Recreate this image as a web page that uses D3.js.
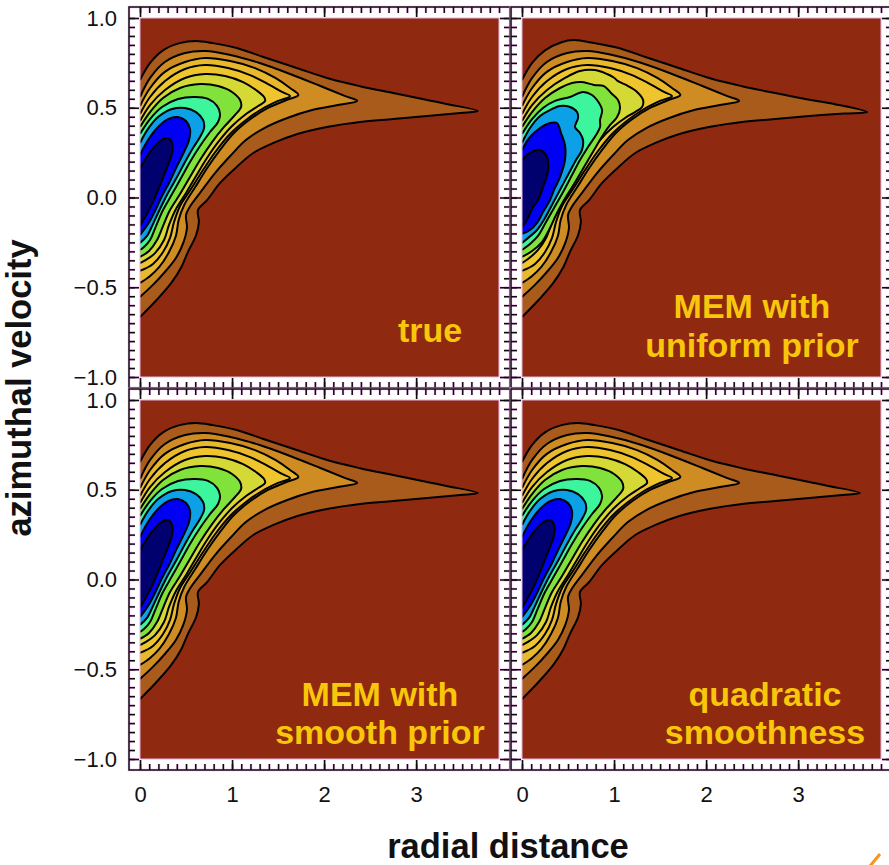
<!DOCTYPE html>
<html>
<head>
<meta charset="utf-8">
<script src="https://cdn.jsdelivr.net/npm/d3@7"></script>
<style>
body { margin:0; background:#fff; }
text { font-family:"Liberation Sans", Arial, Helvetica, sans-serif; }
</style>
</head>
<body>
<div id="chart"></div>
<script>
// axis ranges and ticks
var xDomain = [0, 3.9];
var yDomain = [-1, 1];
var xTicks = [0, 1, 2, 3];
var yTicks = [-1, -0.5, 0, 0.5, 1];

// fill colour of each contour level, outermost first
var backgroundColor = "#8f2a11";
var levelColors = ["#a95b1b", "#cf8c23", "#e9b92c", "#efc52e", "#d5d935",
                   "#82e23c", "#3cf59d", "#0ca0e6", "#0000f5", "#00006e"];

// contour lines read off the "true" panel: [radial distance, azimuthal velocity]
// each line starts and ends on the left edge (radial distance 0)
var contoursTrue = [
  [[0,0.655],[0.11,0.75],[0.25,0.82],[0.43,0.86],[0.61,0.872],[0.79,0.86],[1.05,0.833],[1.34,0.783],[1.71,0.72],[2.07,0.66],[2.39,0.62],[2.75,0.582],[3.12,0.543],[3.34,0.52],[3.67,0.482],[3.48,0.471],[3.12,0.454],[2.75,0.437],[2.39,0.421],[2.03,0.393],[1.71,0.354],[1.45,0.304],[1.23,0.248],[1.05,0.17],[0.87,0.081],[0.73,-0.014],[0.63,-0.07],[0.64,-0.136],[0.61,-0.209],[0.52,-0.304],[0.45,-0.387],[0.34,-0.476],[0.18,-0.571],[0,-0.666]],
  [[0,0.56],[0.11,0.666],[0.27,0.755],[0.49,0.805],[0.71,0.816],[0.98,0.794],[1.3,0.749],[1.63,0.688],[1.96,0.621],[2.23,0.565],[2.36,0.538],[2.15,0.515],[1.87,0.487],[1.6,0.443],[1.35,0.387],[1.15,0.32],[0.98,0.231],[0.815,0.136],[0.66,0.031],[0.54,-0.053],[0.5,-0.097],[0.51,-0.17],[0.47,-0.253],[0.39,-0.337],[0.27,-0.415],[0.14,-0.487],[0,-0.554]],
  [[0,0.51],[0.11,0.61],[0.27,0.7],[0.49,0.755],[0.71,0.777],[0.98,0.76],[1.25,0.721],[1.47,0.666],[1.63,0.61],[1.72,0.571],[1.59,0.543],[1.39,0.499],[1.2,0.437],[1.02,0.359],[0.87,0.265],[0.73,0.164],[0.6,0.058],[0.48,-0.042],[0.42,-0.125],[0.39,-0.214],[0.315,-0.304],[0.21,-0.387],[0.11,-0.437],[0,-0.476]],
  [[0,0.465],[0.109,0.56],[0.272,0.649],[0.489,0.716],[0.707,0.738],[0.957,0.721],[1.196,0.682],[1.391,0.632],[1.543,0.588],[1.63,0.565],[1.5,0.538],[1.326,0.493],[1.152,0.432],[0.978,0.354],[0.826,0.259],[0.685,0.153],[0.554,0.047],[0.435,-0.047],[0.37,-0.136],[0.326,-0.225],[0.25,-0.304],[0.141,-0.37],[0,-0.409]],
  [[0,0.426],[0.109,0.515],[0.272,0.599],[0.489,0.666],[0.707,0.688],[0.924,0.677],[1.12,0.643],[1.26,0.599],[1.348,0.56],[1.359,0.538],[1.283,0.51],[1.152,0.465],[1.0,0.398],[0.859,0.315],[0.728,0.22],[0.609,0.12],[0.5,0.025],[0.391,-0.064],[0.315,-0.153],[0.261,-0.237],[0.163,-0.31],[0.065,-0.348],[0,-0.365]],
  [[0,0.393],[0.109,0.476],[0.25,0.554],[0.435,0.61],[0.652,0.632],[0.848,0.621],[1.0,0.588],[1.087,0.543],[1.098,0.504],[1.033,0.46],[0.913,0.393],[0.783,0.309],[0.652,0.209],[0.543,0.114],[0.435,0.019],[0.326,-0.07],[0.25,-0.159],[0.185,-0.237],[0.098,-0.298],[0,-0.331]],
  [[0,0.354],[0.109,0.437],[0.239,0.504],[0.413,0.549],[0.598,0.56],[0.739,0.549],[0.837,0.51],[0.87,0.465],[0.848,0.421],[0.761,0.365],[0.652,0.287],[0.543,0.198],[0.446,0.109],[0.348,0.019],[0.25,-0.07],[0.174,-0.159],[0.109,-0.237],[0.043,-0.276],[0,-0.292]],
  [[0,0.304],[0.087,0.382],[0.196,0.448],[0.348,0.493],[0.489,0.499],[0.609,0.476],[0.685,0.432],[0.696,0.387],[0.652,0.337],[0.576,0.276],[0.489,0.198],[0.402,0.114],[0.304,0.025],[0.217,-0.064],[0.141,-0.148],[0.076,-0.214],[0,-0.253]],
  [[0,0.237],[0.087,0.32],[0.196,0.393],[0.304,0.437],[0.413,0.448],[0.5,0.426],[0.543,0.382],[0.533,0.32],[0.478,0.253],[0.402,0.175],[0.326,0.092],[0.239,0.008],[0.163,-0.075],[0.087,-0.148],[0,-0.209]],
  [[0,0.164],[0.109,0.253],[0.217,0.315],[0.304,0.331],[0.348,0.304],[0.348,0.248],[0.304,0.181],[0.239,0.097],[0.174,0.014],[0.109,-0.058],[0.043,-0.12],[0,-0.159]]
];

// MEM with uniform prior: outer lines as in the true panel, longer tail, ragged inner lines
var uniformOuter = [[0,0.655],[0.11,0.75],[0.25,0.82],[0.43,0.865],[0.56,0.877],[0.79,0.86],[1.05,0.833],[1.34,0.783],[1.71,0.72],[2.07,0.66],[2.39,0.62],[2.75,0.582],[3.12,0.545],[3.4,0.52],[3.75,0.476],[3.5,0.468],[3.12,0.454],[2.75,0.437],[2.39,0.421],[2.03,0.393],[1.71,0.354],[1.45,0.304],[1.23,0.248],[1.05,0.17],[0.87,0.081],[0.73,-0.014],[0.63,-0.07],[0.64,-0.136],[0.61,-0.209],[0.52,-0.304],[0.45,-0.387],[0.34,-0.476],[0.18,-0.571],[0,-0.666]];
var uniformInner = [
  [[0,0.426],[0.109,0.515],[0.272,0.599],[0.467,0.666],[0.63,0.705],[0.793,0.71],[0.924,0.688],[1.0,0.667],[1.043,0.648],[1.152,0.621],[1.25,0.588],[1.315,0.543],[1.304,0.504],[1.228,0.476],[1.12,0.443],[0.989,0.393],[0.848,0.32],[0.739,0.237],[0.63,0.142],[0.522,0.042],[0.413,-0.053],[0.326,-0.142],[0.261,-0.226],[0.174,-0.292],[0.065,-0.343],[0,-0.365]],
  [[0,0.393],[0.109,0.476],[0.25,0.554],[0.413,0.61],[0.543,0.638],[0.652,0.643],[0.783,0.627],[0.891,0.621],[0.967,0.582],[1.043,0.543],[1.065,0.499],[1.033,0.448],[0.957,0.404],[0.88,0.348],[0.783,0.265],[0.674,0.17],[0.565,0.075],[0.457,-0.014],[0.37,-0.097],[0.293,-0.181],[0.217,-0.248],[0.109,-0.298],[0,-0.331]],
  [[0,0.354],[0.109,0.437],[0.228,0.499],[0.359,0.538],[0.522,0.56],[0.663,0.588],[0.761,0.571],[0.815,0.543],[0.87,0.487],[0.848,0.432],[0.848,0.393],[0.804,0.348],[0.717,0.281],[0.63,0.209],[0.543,0.125],[0.446,0.031],[0.348,-0.058],[0.261,-0.136],[0.174,-0.214],[0.087,-0.259],[0,-0.292]],
  [[0,0.304],[0.087,0.387],[0.196,0.454],[0.304,0.487],[0.413,0.51],[0.522,0.504],[0.598,0.476],[0.609,0.443],[0.576,0.393],[0.63,0.359],[0.663,0.32],[0.652,0.265],[0.587,0.209],[0.511,0.136],[0.424,0.053],[0.337,-0.031],[0.25,-0.114],[0.163,-0.181],[0,-0.253]],
  [[0,0.265],[0.087,0.337],[0.196,0.387],[0.304,0.415],[0.38,0.415],[0.424,0.359],[0.467,0.292],[0.467,0.209],[0.413,0.114],[0.348,0.042],[0.304,-0.014],[0.228,-0.081],[0.163,-0.142],[0.087,-0.181],[0,-0.203]],
  [[0,0.209],[0.087,0.248],[0.196,0.265],[0.272,0.226],[0.283,0.153],[0.228,0.058],[0.174,-0.014],[0.12,-0.053],[0.054,-0.125],[0,-0.164]]
];
var contoursUniform = [uniformOuter, contoursTrue[1], contoursTrue[2], contoursTrue[3]].concat(uniformInner);

// the two smoothed reconstructions are indistinguishable from the true map at this size
var contoursSmooth = contoursTrue;
var contoursQuadratic = contoursTrue;

var panelLabels = [["true"], ["MEM with", "uniform prior"], ["MEM with", "smooth prior"], ["quadratic", "smoothness"]];

var W = 889, H = 865;
var frameSize = 381, pad = 11;

var svg = d3.select("#chart").append("svg")
	.attr("width", W)
	.attr("height", H);

var panels = [
	{col:0, row:0, contours:contoursTrue,      labelX:430, labelY:[342]},
	{col:1, row:0, contours:contoursUniform,   labelX:752, labelY:[318, 357]},
	{col:0, row:1, contours:contoursSmooth,    labelX:380, labelY:[706, 744]},
	{col:1, row:1, contours:contoursQuadratic, labelX:765, labelY:[706, 744]}
];

var fmt = d3.format(".1f");
var yMinor = d3.range(-1, 1.001, 0.05);
var xMinor = d3.range(0, 3.901, 0.1);

panels.forEach(function(p, i){
	var fx = 129 + p.col * 382;
	var fy = 7 + p.row * 382;

	var x = d3.scaleLinear().domain(xDomain).range([fx + pad, fx + frameSize - pad]);
	var y = d3.scaleLinear().domain(yDomain).range([fy + frameSize - pad, fy + pad]);

	svg.append("clipPath").attr("id", "clip" + i)
	   .append("rect")
	   .attr("x", x(xDomain[0]))
	   .attr("y", y(yDomain[1]))
	   .attr("width", x(xDomain[1]) - x(xDomain[0]))
	   .attr("height", y(yDomain[0]) - y(yDomain[1]));

	// plot background
	svg.append("rect")
	   .attr("x", x(xDomain[0]))
	   .attr("y", y(yDomain[1]))
	   .attr("width", x(xDomain[1]) - x(xDomain[0]))
	   .attr("height", y(yDomain[0]) - y(yDomain[1]))
	   .attr("fill", backgroundColor);

	// filled contours, outermost first; open paths so the left edge gets no outline
	var line = d3.line()
	   .x(function(d){ return x(d[0]); })
	   .y(function(d){ return y(d[1]); })
	   .curve(d3.curveCatmullRom.alpha(0.5));

	svg.append("g")
	   .attr("clip-path", "url(#clip" + i + ")")
	   .selectAll("path")
	   .data(p.contours)
	   .join("path")
	   .attr("d", line)
	   .attr("fill", function(d, k){ return levelColors[k]; })
	   .attr("stroke", "#000")
	   .attr("stroke-width", 2)
	   .attr("stroke-linejoin", "round");

	// thin pink rim round the plot area
	svg.append("rect")
	   .attr("x", x(xDomain[0]))
	   .attr("y", y(yDomain[1]))
	   .attr("width", x(xDomain[1]) - x(xDomain[0]))
	   .attr("height", y(yDomain[0]) - y(yDomain[1]))
	   .attr("fill", "none")
	   .attr("stroke", "#e8b2e8")
	   .attr("stroke-width", 1);

	// frame and inward ticks, drawn twice: pink halo then black
	[["#f0c8f0", 2.6], ["#140812", 1.5]].forEach(function(st, pass){
		var frame = svg.append("g");
		frame.append("rect")
		   .attr("x", fx).attr("y", fy)
		   .attr("width", frameSize).attr("height", frameSize)
		   .attr("fill", "none")
		   .attr("stroke", st[0])
		   .attr("stroke-width", st[1]);

		var showY = pass == 1 && p.col == 0;
		var showX = pass == 1 && p.row == 1;

		var axes = [
			[d3.axisLeft(y).tickValues(yTicks).tickSize(-10).tickPadding(12).tickFormat(showY ? fmt : ""), fx, 0],
			[d3.axisLeft(y).tickValues(yMinor).tickSize(-6).tickFormat(""), fx, 0],
			[d3.axisRight(y).tickValues(yTicks).tickSize(-10).tickFormat(""), fx + frameSize, 0],
			[d3.axisRight(y).tickValues(yMinor).tickSize(-6).tickFormat(""), fx + frameSize, 0],
			[d3.axisTop(x).tickValues(xTicks).tickSize(-10).tickFormat(""), 0, fy],
			[d3.axisTop(x).tickValues(xMinor).tickSize(-6).tickFormat(""), 0, fy],
			[d3.axisBottom(x).tickValues(xTicks).tickSize(-10).tickPadding(16).tickFormat(showX ? d3.format("d") : ""), 0, fy + frameSize],
			[d3.axisBottom(x).tickValues(xMinor).tickSize(-6).tickFormat(""), 0, fy + frameSize]
		];
		axes.forEach(function(a){
			var ag = frame.append("g")
			   .attr("transform", "translate(" + a[1] + "," + a[2] + ")")
			   .call(a[0]);
			ag.select(".domain").remove();
			ag.selectAll("line").attr("stroke", st[0]).attr("stroke-width", st[1]);
			ag.selectAll("text")
			   .attr("font-size", "22px")
			   .attr("font-family", "'Liberation Sans', Arial, Helvetica, sans-serif")
			   .attr("fill", "#111");
		});
	});

	// panel caption
	var cap = svg.append("text")
	   .attr("text-anchor", "middle")
	   .attr("font-size", "34px")
	   .attr("font-weight", "bold")
	   .attr("fill", "#f8c60a");
	panelLabels[i].forEach(function(s, k){
		cap.append("tspan")
		   .attr("x", p.labelX)
		   .attr("y", p.labelY[k])
		   .text(s);
	});
});

// axis titles
svg.append("text")
   .attr("transform", "translate(31,388) rotate(-90)")
   .attr("text-anchor", "middle")
   .attr("font-size", "34.5px")
   .attr("font-weight", "bold")
   .attr("fill", "#111")
   .text("azimuthal velocity");

svg.append("text")
   .attr("x", 508)
   .attr("y", 858)
   .attr("text-anchor", "middle")
   .attr("font-size", "34.5px")
   .attr("font-weight", "bold")
   .attr("fill", "#111")
   .text("radial distance");

// small orange stroke cut off in the bottom-right corner
svg.append("line")
   .attr("x1", 870).attr("y1", 866)
   .attr("x2", 880).attr("y2", 854)
   .attr("stroke", "#f7941d")
   .attr("stroke-width", 3);
</script>
</body>
</html>
